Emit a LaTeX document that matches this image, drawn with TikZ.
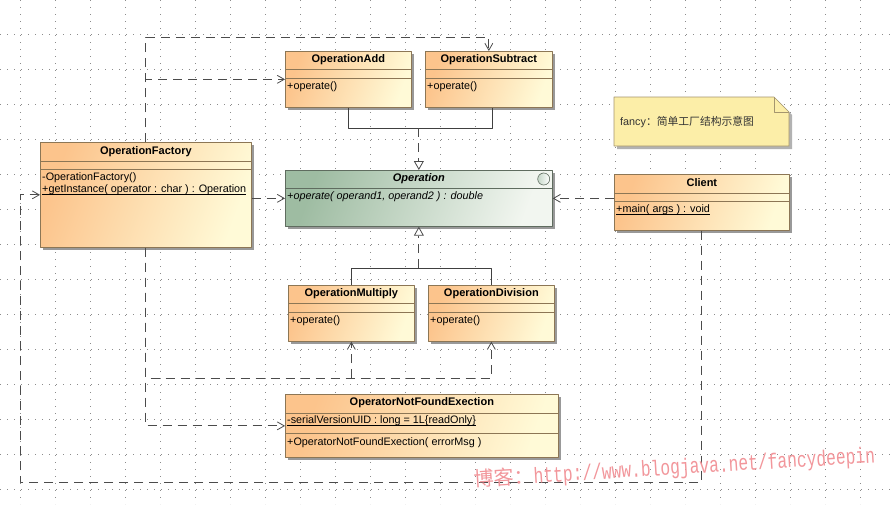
\documentclass[tikz,border=0pt]{standalone}
\usepackage{fontspec}
\usepackage{graphicx}
\setmainfont{Liberation Sans}
\setmonofont{Liberation Mono}
\newfontfamily\cjk{Noto Sans CJK SC}
\usetikzlibrary{arrows.meta,shadows}
\definecolor{clsorange}{RGB}{252,196,140}
\definecolor{clscream}{RGB}{255,250,215}
\definecolor{clsborder}{RGB}{140,118,85}
\definecolor{opgreen}{RGB}{158,188,162}
\definecolor{oplight}{RGB}{242,246,240}
\definecolor{opborder}{RGB}{95,108,95}
\definecolor{notefill}{RGB}{252,238,168}
\definecolor{noteborder}{RGB}{165,150,110}
\definecolor{wmpink}{RGB}{242,150,155}
\definecolor{gridgray}{RGB}{140,140,140}
\definecolor{depgray}{RGB}{75,75,75}
% underline close to the baseline, as the UML tool draws it
\newcommand\umlul[1]{\setbox0\hbox{#1}\rlap{\rule[-1.4pt]{\wd0}{0.5pt}}\box0}

\begin{document}
\begin{tikzpicture}[x=1pt,y=-1pt, font=\fontsize{10.8}{12}\selectfont, line join=round, >={Straight Barb[length=7pt,width=8pt]},
	cls/.style={draw=clsborder, line width=0.7pt, left color=clsorange, right color=clscream, shading angle=70,
		drop shadow={shadow xshift=3pt, shadow yshift=-3pt, fill=black!40, opacity=1}, anchor=north west, inner sep=0pt},
	abscls/.style={cls, draw=opborder, left color=opgreen, right color=oplight, shading angle=70},
	clstitle/.style={font=\fontsize{11}{12}\selectfont\bfseries, inner sep=0pt},
	member/.style={anchor=west, inner sep=0pt},
	cmpline/.style={draw=clsborder, line width=0.7pt},
	gridline/.style={draw=gridgray, line width=0.6pt, dash pattern=on 0.8pt off 6.2pt},
	depend/.style={draw=depgray, line width=0.8pt, dash pattern=on 9pt off 6pt, ->},
	realize/.style={draw=depgray, line width=0.8pt, dash pattern=on 9pt off 6pt, -{Triangle[open,length=9pt,width=10pt]}},
	genline/.style={draw=black!75, line width=0.8pt}]
	\fill[white] (0,0) rectangle (895,504);
	\useasboundingbox (0,0) rectangle (895,504);
	% grid
	\foreach \gy in {34,69,...,489} \draw[gridline] (0,\gy) -- (895,\gy);
	\foreach \gx in {20,55,...,895} \draw[gridline] (\gx,0) -- (\gx,504);

	% classes
	\node[cls, minimum width=126pt, minimum height=56pt] (add) at (285,51) {};
	\node[clstitle] (addTitle) at ([yshift=-9pt]add.north) {OperationAdd};
	\draw[cmpline] ([yshift=-18pt]add.north west) -- ([yshift=-18pt]add.north east);
	\draw[cmpline] ([yshift=-27pt]add.north west) -- ([yshift=-27pt]add.north east);
	\node[member] (addOp) at ([xshift=2pt,yshift=-36pt]add.north west) {+operate()};

	\node[cls, minimum width=127pt, minimum height=56pt] (sub) at (425,51) {};
	\node[clstitle] (subTitle) at ([yshift=-9pt]sub.north) {OperationSubtract};
	\draw[cmpline] ([yshift=-18pt]sub.north west) -- ([yshift=-18pt]sub.north east);
	\draw[cmpline] ([yshift=-27pt]sub.north west) -- ([yshift=-27pt]sub.north east);
	\node[member] (subOp) at ([xshift=2pt,yshift=-36pt]sub.north west) {+operate()};

	\node[abscls, minimum width=267pt, minimum height=56pt] (oper) at (285,170) {};
	\node[clstitle, font=\fontsize{11}{12}\selectfont\bfseries\itshape] (operTitle) at ([yshift=-9pt]oper.north) {Operation};
	\draw[cmpline, draw=opborder] ([yshift=-18pt]oper.north west) -- ([yshift=-18pt]oper.north east);
	\node[member, font=\fontsize{10.8}{12}\selectfont\itshape] (operOp) at ([xshift=2pt,yshift=-27pt]oper.north west) {+operate( operand1, operand2 ) : double};
	\node[circle, draw=opborder, line width=0.6pt, left color=opgreen!60, right color=white, minimum size=12pt, inner sep=0pt] (operIcon) at ([xshift=-9pt,yshift=-9pt]oper.north east) {};

	\node[cls, minimum width=211pt, minimum height=105pt] (factory) at (40,142) {};
	\node[clstitle] (factoryTitle) at ([yshift=-9.5pt]factory.north) {OperationFactory};
	\draw[cmpline] ([yshift=-19pt]factory.north west) -- ([yshift=-19pt]factory.north east);
	\draw[cmpline] ([yshift=-27pt]factory.north west) -- ([yshift=-27pt]factory.north east);
	\node[member] (factoryCtor) at ([xshift=2pt,yshift=-36pt]factory.north west) {-OperationFactory()};
	\node[member] (factoryGet) at ([xshift=2pt,yshift=-48pt]factory.north west) {\umlul{+getInstance( operator : char ) : Operation}};

	\node[cls, minimum width=175pt, minimum height=56pt] (client) at (614,174) {};
	\node[clstitle] (clientTitle) at ([yshift=-9pt]client.north) {Client};
	\draw[cmpline] ([yshift=-19pt]client.north west) -- ([yshift=-19pt]client.north east);
	\draw[cmpline] ([yshift=-27pt]client.north west) -- ([yshift=-27pt]client.north east);
	\node[member] (clientMain) at ([xshift=2pt,yshift=-36pt]client.north west) {\umlul{+main( args ) : void}};

	\node[cls, minimum width=126pt, minimum height=56pt] (mult) at (288,285) {};
	\node[clstitle] (multTitle) at ([yshift=-9pt]mult.north) {OperationMultiply};
	\draw[cmpline] ([yshift=-18pt]mult.north west) -- ([yshift=-18pt]mult.north east);
	\draw[cmpline] ([yshift=-27pt]mult.north west) -- ([yshift=-27pt]mult.north east);
	\node[member] (multOp) at ([xshift=2pt,yshift=-36pt]mult.north west) {+operate()};

	\node[cls, minimum width=126pt, minimum height=56pt] (divi) at (428,285) {};
	\node[clstitle] (diviTitle) at ([yshift=-9pt]divi.north) {OperationDivision};
	\draw[cmpline] ([yshift=-18pt]divi.north west) -- ([yshift=-18pt]divi.north east);
	\draw[cmpline] ([yshift=-27pt]divi.north west) -- ([yshift=-27pt]divi.north east);
	\node[member] (diviOp) at ([xshift=2pt,yshift=-36pt]divi.north west) {+operate()};

	\node[cls, minimum width=273pt, minimum height=63pt] (exc) at (285,394) {};
	\node[clstitle] (excTitle) at ([yshift=-9pt]exc.north) {OperatorNotFoundExection};
	\draw[cmpline] ([yshift=-19pt]exc.north west) -- ([yshift=-19pt]exc.north east);
	\draw[cmpline] ([yshift=-39pt]exc.north west) -- ([yshift=-39pt]exc.north east);
	\node[member] (excAttr) at ([xshift=2pt,yshift=-27pt]exc.north west) {\umlul{-serialVersionUID : long = 1L\{readOnly\}}};
	\node[member] (excCtor) at ([xshift=2pt,yshift=-49pt]exc.north west) {+OperatorNotFoundExection( errorMsg )};

	% note
	\path[draw=noteborder, line width=0.7pt, fill=notefill, drop shadow={shadow xshift=3pt, shadow yshift=-3pt, fill=black!30, opacity=1}]
		(614,97) -- (774,97) -- (789,112) -- (789,146) -- (614,146) -- cycle;
	\draw[noteborder, line width=0.7pt] (774,97) -- (774,112) -- (789,112);
	\node[member, text=black!80] (noteText) at (620,122) {fancy{\cjk：简单工厂结构示意图}};

	% connectors
	\coordinate (toprow) at (0,37);
	\coordinate (botrow) at (0,378);
	\coordinate (lowrow) at (20,482);
	\coordinate (upjoin) at (0,128);
	\coordinate (lowjoin) at (0,268);
	\draw[depend] (factory.north) |- (toprow -| sub.north) -- (sub.north);
	\draw[depend] (factory.north) |- (add.west);
	\draw[depend] (factory.east |- oper.west) -- (oper.west);
	\draw[depend] (factory.south) |- (botrow -| divi.south) -- (divi.south);
	\draw[depend] (botrow -| mult.south) -- (mult.south);
	\draw[depend] (factory.south) |- (exc.west);
	\draw[depend] (client.west |- oper.east) -- (oper.east);
	\draw[depend] (client.south) |- (lowrow) |- (factory.west);
	\draw[genline] (add.south) |- ([xshift=4pt]sub.south |- upjoin) -- ([xshift=4pt]sub.south);
	\draw[realize] (oper.north |- upjoin) -- (oper.north);
	\draw[genline] (mult.north) |- (divi.north |- lowjoin) -- (divi.north);
	\draw[realize] (oper.south |- lowjoin) -- (oper.south);

	% watermark
	\node[anchor=base west, rotate=3.5, text=wmpink, inner sep=0pt] (blogmark) at (474,487)
		{{\cjk\fontsize{20}{20}\selectfont 博客：}\scalebox{0.74}[1]{\ttfamily\fontsize{22}{22}\selectfont http://www.blogjava.net/fancydeepin}};
\end{tikzpicture}
\end{document}
